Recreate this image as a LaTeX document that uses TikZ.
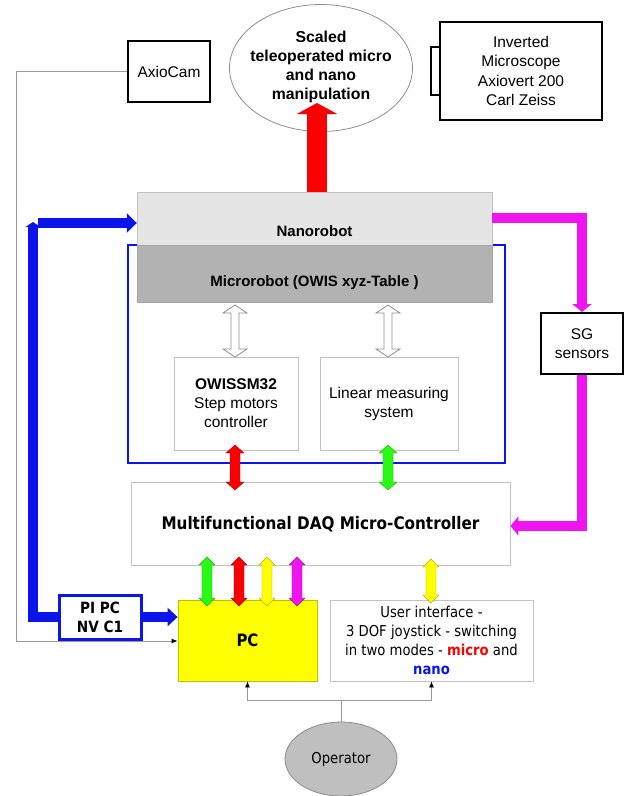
\documentclass[tikz,border=0pt]{standalone}
\usepackage{fontspec}
\setmainfont{Liberation Sans}
\newfontfamily\tah[FakeStretch=0.88]{DejaVu Sans}
\usetikzlibrary{arrows.meta,calc,shapes.geometric}
\definecolor{bl}{RGB}{10,20,235}
\definecolor{mg}{RGB}{240,20,240}
\definecolor{gr}{RGB}{40,250,20}
\definecolor{yl}{RGB}{255,255,0}
\definecolor{rd}{RGB}{250,0,0}
\definecolor{lgray}{RGB}{195,195,195}
\newcommand\vdarrow[7]{\draw[#7] (#1-#4,#2+#6) -- (#1-#5,#2+#6) -- (#1,#2) -- (#1+#5,#2+#6) -- (#1+#4,#2+#6) -- (#1+#4,#3-#6) -- (#1+#5,#3-#6) -- (#1,#3) -- (#1-#5,#3-#6) -- (#1-#4,#3-#6) -- cycle;}
\tikzset{
  blackbox/.style={draw=black, line width=2pt, fill=white, inner sep=0pt, align=center, font=\fontsize{15.5}{19.5}\selectfont},
  graybox/.style={draw=lgray, line width=0.8pt, fill=white, inner sep=0pt, align=center, font=\fontsize{15.5}{19}\selectfont},
  thinline/.style={draw=black!40, line width=0.8pt},
  smallhead/.style={-{Latex[length=6pt,width=5pt,color=black]}},
}
\begin{document}
\begin{tikzpicture}[x=1pt,y=-1pt]
\useasboundingbox (0,0) rectangle (629,796);
% top elements
\node[blackbox, minimum width=82pt, minimum height=61pt] (axiocam) at (169,71.5) {AxioCam};
\node[ellipse, draw=black!45, line width=0.8pt, fill=white, minimum width=183pt, minimum height=127pt, inner sep=0pt] (goal) at (321,68) {};
\node[align=center, font=\bfseries\fontsize{15.8}{19}\selectfont, inner sep=0pt] (goaltext) at (321,67) {Scaled\\teleoperated micro\\and nano\\manipulation};
\draw[black, line width=2pt, fill=white] (431,47) rectangle (440,95);
\node[blackbox, minimum width=162pt, minimum height=98pt] (scope) at (521,71) {Inverted\\Microscope\\Axiovert 200\\Carl Zeiss};
% blue frame
\draw[bl, line width=2pt] (128,245) rectangle (505,463);
% robots
\node[draw=lgray, fill=black!10, minimum width=355pt, minimum height=53pt, inner sep=0pt] (nano) at (314.5,218.5) {};
\node[font=\bfseries\fontsize{15}{18}\selectfont, inner sep=0pt] (nanotext) at (314.5,231) {Nanorobot};
\node[draw=black!35, fill=black!30, minimum width=355pt, minimum height=57pt, inner sep=0pt] (micro) at (314.5,273.5) {};
\node[font=\bfseries\fontsize{15}{18}\selectfont, inner sep=0pt] (microtext) at (314.5,283) {Microrobot (OWIS xyz-Table )};
% controllers
\node[graybox, minimum width=124pt, minimum height=93pt] (owis) at (236,403.5) {\textbf{OWISSM32}\\Step motors\\controller};
\node[graybox, minimum width=138pt, minimum height=93pt] (linear) at (389,403.5) {Linear measuring\\system};
% hollow arrows
\vdarrow{235}{305}{357}{4}{12}{8}{draw=black!45, line width=0.8pt, fill=white}
\vdarrow{388}{305}{357}{4}{12}{8}{draw=black!45, line width=0.8pt, fill=white}
% DAQ
\node[graybox, minimum width=379pt, minimum height=83pt, font=\tah\bfseries\fontsize{17.3}{20}\selectfont] (daq) at (320.5,524) {Multifunctional DAQ Micro-Controller};
% red / green to DAQ
\vdarrow{235}{445}{490}{5}{9}{8}{draw=rd!70!black, line width=0.4pt, fill=rd}
\vdarrow{388}{445}{490}{5}{9}{8}{draw=gr!70!black, line width=0.4pt, fill=gr}
% SG sensors
\node[blackbox, minimum width=82pt, minimum height=61pt] (sg) at (582,343.5) {SG\\sensors};
% PI PC
\node[draw=bl, line width=3pt, fill=white, minimum width=82pt, minimum height=44pt, inner sep=0pt, align=center, font=\tah\bfseries\fontsize{15.5}{19}\selectfont] (pipc) at (100,617) {PI PC\\NV C1};
% PC
\node[draw=yl!75!black, line width=0.8pt, fill=yl, minimum width=139pt, minimum height=81pt, inner sep=0pt, font=\tah\bfseries\fontsize{17}{20}\selectfont] (pc) at (247.5,640.5) {PC};
% UI
\node[graybox, minimum width=203pt, minimum height=81pt, font=\tah\fontsize{15}{19}\selectfont] (ui) at (431.5,640.5) {User interface -\\3 DOF joystick - switching\\in two modes - {\color{rd}\bfseries micro} and\\{\color{bl}\bfseries nano}};
% operator
\node[ellipse, draw=black!45, line width=0.8pt, fill=black!25, minimum width=112pt, minimum height=74pt, inner sep=0pt, font=\tah\fontsize{15}{18}\selectfont] (op) at (341,759) {Operator};
% DAQ <-> PC arrows
\vdarrow{207}{557}{606}{5}{8}{8}{draw=gr!70!black, line width=0.4pt, fill=gr}
\vdarrow{239}{557}{606}{5}{8}{8}{draw=rd!70!black, line width=0.4pt, fill=rd}
\vdarrow{267}{557}{606}{5}{8}{8}{draw=yl!70!black, line width=0.4pt, fill=yl}
\vdarrow{297}{557}{606}{5}{8}{8}{draw=mg!70!black, line width=0.4pt, fill=mg}
\vdarrow{431}{559}{603}{5}{8}{8}{draw=yl!70!black, line width=0.4pt, fill=yl}
% red arrow up
\draw[rd, line width=20pt, -{Triangle[width=40pt,length=11pt]}] (nano.north -| 317,0) -- (317,103);
% blue path
\coordinate (bcorner) at (33,222);
\draw[bl, line width=10pt, line join=miter, -{Triangle[width=15pt,length=5pt]}] (pipc.west) -- (bcorner |- pipc.west) -- (bcorner);
\draw[bl, line width=10pt, -{Triangle[width=19pt,length=10pt]}] ($(bcorner)+(5,1)$) -- (nano.west |- 0,223);
\draw[bl, line width=10pt, -{Triangle[width=18pt,length=10pt]}] (pipc.east) -- (pc.west |- pipc.east);
% magenta path
\draw[mg, line width=10pt, line join=miter, -{Triangle[width=19pt,length=8pt]}] (nano.east |- 0,218) -- (582,218) -- (sg.north);
\draw[mg, line width=10pt, line join=miter, -{Triangle[width=19pt,length=8pt]}] (sg.south) -- (582,526) -- (daq.east |- 0,526);
% AxioCam line
\draw[thinline, smallhead] (axiocam.west) -- (16,0 |- axiocam.west) -- (16,641) -- (pc.west |- 0,641);
% operator lines
\draw[thinline] (op.north) -- (op.north |- 0,700);
\draw[thinline, {Latex[length=6pt,width=5pt,color=black]}-{Latex[length=6pt,width=5pt,color=black]}] (pc.south) -- (pc.south |- 0,700) -- (ui.south |- 0,700) -- (ui.south);
\end{tikzpicture}
\end{document}
